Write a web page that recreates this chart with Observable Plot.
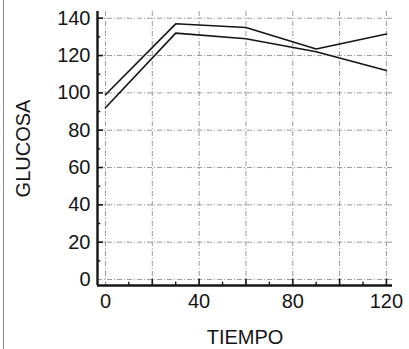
<!DOCTYPE html>
<html><head><meta charset="utf-8">
<script src="https://cdn.jsdelivr.net/npm/d3@7"></script>
<script src="https://cdn.jsdelivr.net/npm/@observablehq/plot@0.6"></script>
<style>
body{margin:0;background:#fff;}
#wrap{position:relative;width:409px;height:349px;overflow:hidden;}
#border{position:absolute;left:3px;top:0;width:1px;height:349px;background:#8a8a8a;}
</style></head><body><div id="wrap"><div id="border"></div><div id="chart"></div></div>
<script>
const tiempo = [0, 30, 60, 90, 120];
const serieA = [99, 137, 135, 123.5, 131.5];
const serieB = [92, 132, 129, 122, 112];
const xTickLabels = [0, 40, 80, 120];
const yTickLabels = [0, 20, 40, 60, 80, 100, 120, 140];
const xGrid = [0, 20, 40, 60, 80, 100, 120];
const yGrid = [0, 20, 40, 60, 80, 100, 120, 140];
const xMajorTicks = [20, 40, 60, 80, 100, 120];
const xMinorTicks = [10, 30, 50, 70, 90, 110];
const yMajorTicks = [20, 40, 60, 80, 100, 120, 140];
const yMinorTicks = [10, 30, 50, 70, 90, 110, 130];
const xDomain = [-3.4, 122.6];
const yDomain = [-3.2, 143.6];

const rows = [];
tiempo.forEach((t, i) => {
  rows.push({s: "A", t, v: serieA[i]});
  rows.push({s: "B", t, v: serieB[i]});
});

const ink = "#151515";
const gridStyle = {stroke: "#9a9a9a", strokeOpacity: 1, strokeWidth: 1, strokeDasharray: "5,2,1,2"};

const chart = Plot.plot({
  width: 409,
  height: 349,
  marginLeft: 97,
  marginRight: 17,
  marginTop: 11,
  marginBottom: 64,
  style: {fontFamily: "'Liberation Sans', Arial, sans-serif", fontSize: "20px", color: ink, background: "transparent"},
  x: {domain: xDomain},
  y: {domain: yDomain},
  marks: [
    Plot.gridX(xGrid, gridStyle),
    Plot.gridY(yGrid, gridStyle),
    Plot.line(rows, {x: "t", y: "v", z: "s", stroke: ink, strokeWidth: 1.6}),
    Plot.ruleX(xMajorTicks, {x: d => d, y1: yDomain[0], y2: yDomain[0] + 3.4, stroke: ink, strokeWidth: 1.6}),
    Plot.ruleX(xMinorTicks, {x: d => d, y1: yDomain[0], y2: yDomain[0] + 1.8, stroke: ink, strokeWidth: 1.4}),
    Plot.ruleY(yMajorTicks, {y: d => d, x1: xDomain[0], x2: xDomain[0] + 2.6, stroke: ink, strokeWidth: 1.6}),
    Plot.ruleY(yMinorTicks, {y: d => d, x1: xDomain[0], x2: xDomain[0] + 1.4, stroke: ink, strokeWidth: 1.4}),
    Plot.ruleY([yDomain[0]], {stroke: ink, strokeWidth: 2.4}),
    Plot.ruleX([xDomain[0]], {stroke: ink, strokeWidth: 2.4}),
    Plot.axisX({ticks: xTickLabels, tickSize: 0, tickPadding: 8, fontSize: 20, label: "TIEMPO", labelAnchor: "center", labelArrow: "none", labelOffset: 58}),
    Plot.axisY({ticks: yTickLabels, tickSize: 0, tickPadding: 7, fontSize: 20, label: "GLUCOSA", labelAnchor: "center", labelArrow: "none", labelOffset: 82})
  ]
});
document.getElementById("chart").appendChild(chart);
</script>
</body></html>
